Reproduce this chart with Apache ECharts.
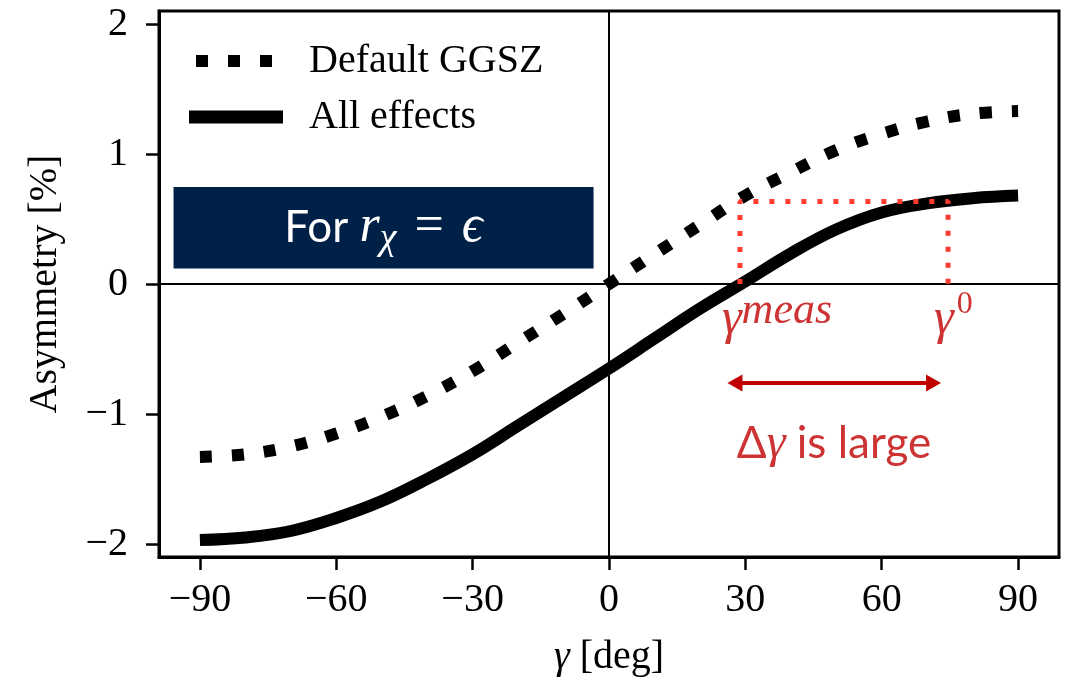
<!DOCTYPE html>
<html>
<head>
<meta charset="utf-8">
<script src="https://cdn.jsdelivr.net/npm/echarts@6/dist/echarts.min.js"></script>
<style>
  html, body { margin: 0; padding: 0; background: #fff; }
  #chart { width: 1066px; height: 679px; }
</style>
</head>
<body>
<div id="chart"></div>
<script>
// Asymmetry vs. gamma for the two model configurations
const gamma = [-90, -80, -70, -60, -50, -40, -30, -20, -10, 0, 10, 20, 30, 40, 50, 60, 70, 80, 90];
const defaultGGSZ = [-1.33, -1.31, -1.25, -1.15, -1.02, -0.86, -0.67, -0.45, -0.23, 0.0,
                     0.23, 0.455, 0.68, 0.86, 1.03, 1.155, 1.25, 1.31, 1.33];
const allEffects = [-1.97, -1.95, -1.90, -1.80, -1.67, -1.50, -1.31, -1.09, -0.87, -0.65,
                    -0.42, -0.19, 0.02, 0.235, 0.42, 0.55, 0.62, 0.66, 0.68];

// Tick positions
const xTicks = [-90, -60, -30, 0, 30, 60, 90];
const yTicks = [-2, -1, 0, 1, 2];

// Annotation values (gamma in deg, asymmetry in %)
const gammaMeas = 28.8;
const gammaZero = 74.6;
const asymLevel = 0.635;
const arrowSpan = [27.7, 71.4];
const arrowLevel = -0.762;
const noteAt = [49.5, -1.23];
const boxCorners = [[-95.8, 0.747], [-3.4, 0.119]];

const SERIF = 'Liberation Serif';
const SANS = 'Lato';
const DARK_RED = '#C00000';
const fmtMinus = v => String(v).replace('-', '\u2212');

const pairs = (xs, ys) => xs.map((x, i) => [x, ys[i]]);

// legend keys: three square dots, and a thick bar
const DOTS_ICON = 'path://M0,0h12v12h-12zM32,0h12v12h-12zM64,0h12v12h-12z';
const legendText = pad => ({ fontFamily: SERIF, fontSize: 40, color: '#000', lineHeight: 40, padding: [0, 0, 0, pad] });

const chart = echarts.init(document.getElementById('chart'), null, { renderer: 'canvas' });

chart.setOption({
  animation: false,
  backgroundColor: '#fff',
  grid: {
    left: 159, right: 7, top: 11, bottom: 122,
    show: true, borderColor: '#000', borderWidth: 3,
    outerBoundsMode: 'none'
  },
  legend: [
    {
      left: 196, top: 41, padding: 0,
      itemWidth: 76, itemHeight: 12,
      itemStyle: { color: '#000' },
      textStyle: legendText(32),
      data: [{ name: 'Default GGSZ', icon: DOTS_ICON }]
    },
    {
      left: 189, top: 97, padding: 0,
      itemWidth: 94, itemHeight: 13,
      itemStyle: { color: '#000' },
      textStyle: legendText(21),
      data: [{ name: 'All effects', icon: 'rect' }]
    }
  ],
  xAxis: {
    type: 'value', min: -99, max: 99,
    axisLine: { show: true, onZero: false, lineStyle: { color: '#000', width: 3 } },
    axisTick: { show: true, customValues: xTicks, length: 13, lineStyle: { color: '#000', width: 2.5 } },
    axisLabel: { customValues: xTicks, formatter: fmtMinus, fontFamily: SERIF, fontSize: 40, color: '#000', margin: 23 },
    splitLine: { show: false },
    name: '{i|γ} [deg]', nameLocation: 'middle', nameGap: 80,
    nameTextStyle: {
      fontFamily: SERIF, fontSize: 40, color: '#000',
      rich: { i: { fontFamily: SERIF, fontStyle: 'italic', fontSize: 40, color: '#000' } }
    }
  },
  yAxis: {
    type: 'value', min: -2.1, max: 2.1,
    axisLine: { show: true, onZero: false, lineStyle: { color: '#000', width: 3 } },
    axisTick: { show: true, customValues: yTicks, length: 13, lineStyle: { color: '#000', width: 2.5 } },
    axisLabel: { customValues: yTicks, formatter: fmtMinus, fontFamily: SERIF, fontSize: 40, color: '#000', margin: 31 },
    splitLine: { show: false },
    name: 'Asymmetry [%]', nameLocation: 'middle', nameGap: 94,
    nameTextStyle: { fontFamily: SERIF, fontSize: 40, color: '#000' }
  },
  series: [
    {
      name: 'Default GGSZ',
      type: 'line',
      data: pairs(gamma, defaultGGSZ),
      smooth: 0.4,
      symbol: 'none',
      itemStyle: { color: '#000' },
      lineStyle: { color: '#000', width: 12, type: [12, 20], cap: 'butt' },
      z: 3,
      markLine: {
        silent: true,
        symbol: ['none', 'none'],
        label: { show: false },
        lineStyle: { color: '#000', width: 2, type: 'solid' },
        data: [{ xAxis: 0 }, { yAxis: 0 }],
        z: 1
      }
    },
    {
      name: 'All effects',
      type: 'line',
      data: pairs(gamma, allEffects),
      smooth: 0.4,
      symbol: 'none',
      itemStyle: { color: '#000' },
      lineStyle: { color: '#000', width: 12, cap: 'butt' },
      z: 3,
      markArea: {
        silent: true,
        itemStyle: { color: '#002147', opacity: 1 },
        label: {
          show: true,
          position: 'inside',
          formatter: '{t|For }{m|r}{sub|χ}{eq|=}{m|ϵ}',
          rich: {
            t: { fontFamily: SANS, fontSize: 44, color: '#fff', lineHeight: 60 },
            m: { fontFamily: SERIF, fontStyle: 'italic', fontSize: 52, color: '#fff', lineHeight: 60 },
            eq: { fontFamily: SERIF, fontSize: 52, color: '#fff', lineHeight: 60, padding: [0, 18, 0, 18] },
            sub: { fontFamily: SERIF, fontStyle: 'italic', fontSize: 38, color: '#fff', lineHeight: 38, verticalAlign: 'bottom' }
          }
        },
        data: [[{ coord: boxCorners[0] }, { coord: boxCorners[1] }]]
      }
    },
    {
      name: 'guide',
      type: 'line',
      data: [[gammaMeas, 0], [gammaMeas, asymLevel], [gammaZero, asymLevel], [gammaZero, 0]],
      symbol: 'none',
      lineStyle: { color: '#FF3B30', width: 5, type: [5, 11], cap: 'butt' },
      z: 4,
      markLine: {
        silent: true,
        symbol: ['triangle', 'triangle'],
        symbolSize: [17, 15],
        label: { show: false },
        lineStyle: { color: DARK_RED, width: 4, type: 'solid' },
        data: [[{ coord: [arrowSpan[0], arrowLevel] }, { coord: [arrowSpan[1], arrowLevel] }]]
      }
    },
    {
      name: 'notes',
      type: 'scatter',
      symbolSize: 0,
      z: 5,
      silent: true,
      data: [
        {
          value: [gammaMeas, 0],
          label: {
            show: true, position: 'bottom', align: 'left', offset: [-18, 0],
            formatter: '{g|γ}{s|meas}',
            rich: {
              g: { fontFamily: SERIF, fontStyle: 'italic', fontSize: 50, color: DARK_RED, lineHeight: 56, verticalAlign: 'bottom' },
              s: { fontFamily: SERIF, fontStyle: 'italic', fontSize: 44, color: DARK_RED, lineHeight: 40, verticalAlign: 'top' }
            }
          }
        },
        {
          value: [gammaZero, 0],
          label: {
            show: true, position: 'bottom', align: 'left', offset: [-14, 0],
            formatter: '{g|γ}{s|0}',
            rich: {
              g: { fontFamily: SERIF, fontStyle: 'italic', fontSize: 50, color: DARK_RED, lineHeight: 56, verticalAlign: 'bottom' },
              s: { fontFamily: SERIF, fontSize: 32, color: DARK_RED, lineHeight: 34, verticalAlign: 'top', padding: [0, 0, 0, 3] }
            }
          }
        },
        {
          value: noteAt,
          label: {
            show: true, position: 'inside',
            formatter: '{t|Δ}{g|γ}{t| is large}',
            rich: {
              t: { fontFamily: SANS, fontSize: 44, color: DARK_RED },
              g: { fontFamily: SERIF, fontStyle: 'italic', fontSize: 48, color: DARK_RED }
            }
          }
        }
      ]
    }
  ]
});
</script>
</body>
</html>
